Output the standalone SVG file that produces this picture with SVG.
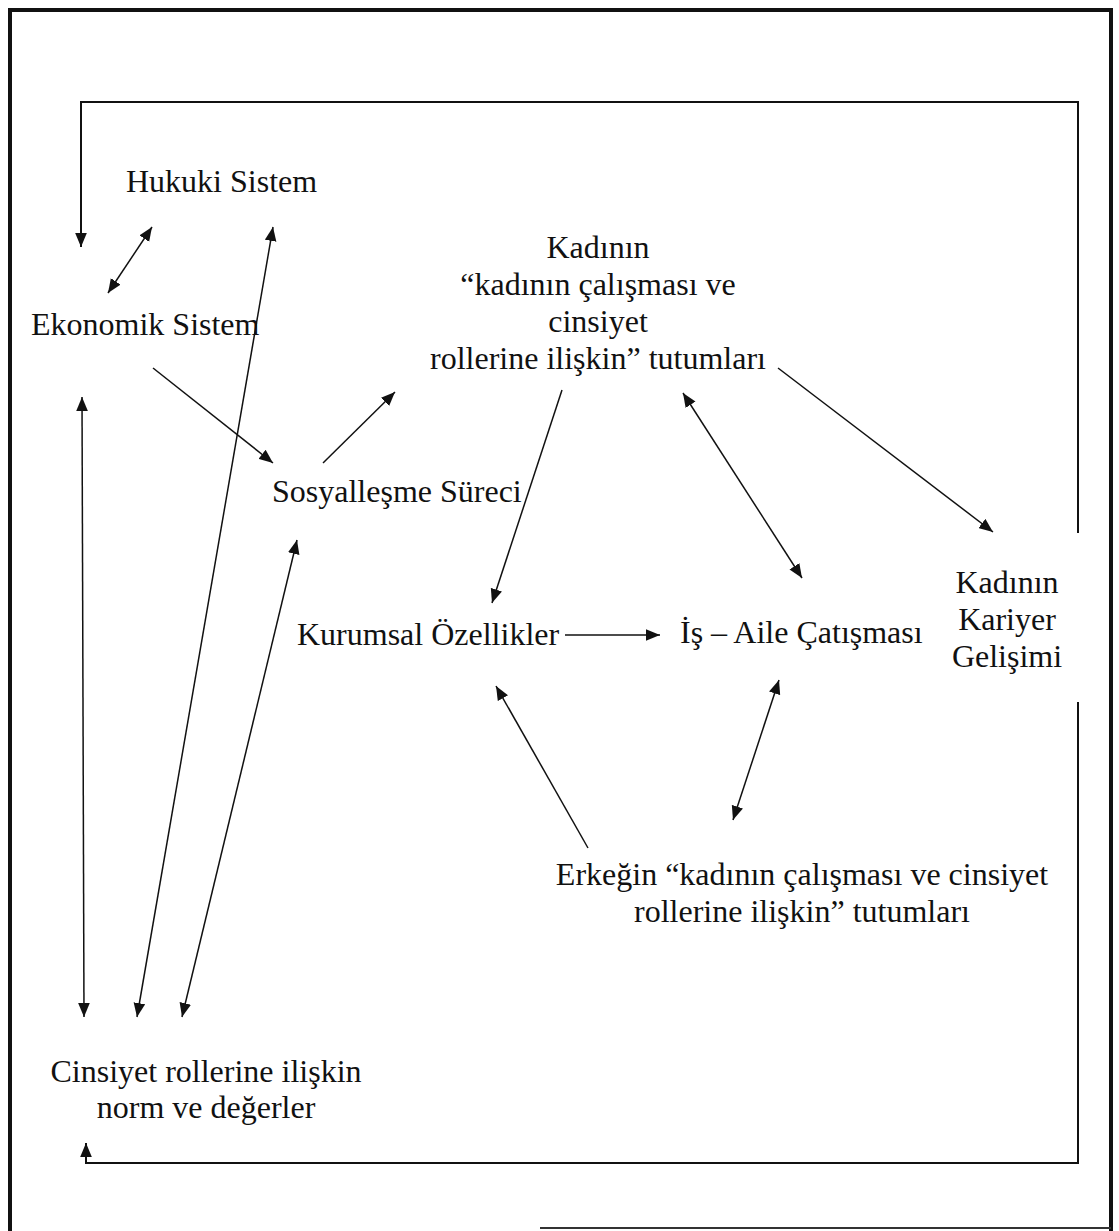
<svg xmlns="http://www.w3.org/2000/svg" width="1119" height="1231" viewBox="0 0 1119 1231">
<style>
text{font-family:"Liberation Serif","Times New Roman",serif;font-size:32px;fill:#111}
.c{text-anchor:middle}
.ln{stroke:#111;stroke-width:1.5;fill:none}
.lp{stroke:#111;stroke-width:2;fill:none}
.fr{stroke:#111;stroke-width:4;fill:none}
</style>
<defs>
<marker id="ah" viewBox="0 0 12 10" refX="12" refY="5" markerWidth="14" markerHeight="12" markerUnits="userSpaceOnUse" orient="auto-start-reverse">
<path d="M0,0 L12,5 L0,10 z" fill="#111"/>
</marker>
</defs>
<rect width="1119" height="1231" fill="#fff"/>
<g id="frame">
<path class="fr" d="M10,1231 V10 H1111 V1231"/>
<line x1="540" y1="1228" x2="1111" y2="1228" stroke="#333" stroke-width="2"/>
</g>
<g id="connectors">
<path class="lp" d="M1078,533 V102 H81 V247" marker-end="url(#ah)"/>
<path class="lp" d="M1078,702 V1163 H86 V1143" marker-end="url(#ah)"/>
<line class="ln" x1="108" y1="293" x2="152" y2="227" marker-start="url(#ah)" marker-end="url(#ah)"/>
<line class="ln" x1="137" y1="1017" x2="273" y2="227" marker-start="url(#ah)" marker-end="url(#ah)"/>
<line class="ln" x1="84" y1="1017" x2="82" y2="397" marker-start="url(#ah)" marker-end="url(#ah)"/>
<line class="ln" x1="182" y1="1017" x2="297" y2="540" marker-start="url(#ah)" marker-end="url(#ah)"/>
<line class="ln" x1="153" y1="368" x2="273" y2="463" marker-end="url(#ah)"/>
<line class="ln" x1="323" y1="463" x2="395" y2="392" marker-end="url(#ah)"/>
<line class="ln" x1="562" y1="390" x2="492" y2="603" marker-end="url(#ah)"/>
<line class="ln" x1="683" y1="393" x2="802" y2="578" marker-start="url(#ah)" marker-end="url(#ah)"/>
<line class="ln" x1="778" y1="368" x2="993" y2="532" marker-end="url(#ah)"/>
<line class="ln" x1="565" y1="635" x2="660" y2="635" marker-end="url(#ah)"/>
<line class="ln" x1="588" y1="848" x2="496" y2="686" marker-end="url(#ah)"/>
<line class="ln" x1="779" y1="680" x2="733" y2="820" marker-start="url(#ah)" marker-end="url(#ah)"/>
</g>
<g id="hukuki"><text x="126" y="192">Hukuki Sistem</text></g>
<g id="ekonomik"><text x="31" y="335">Ekonomik Sistem</text></g>
<g id="sosyallesme"><text x="272" y="502">Sosyalleşme Süreci</text></g>
<g id="kadin-tutum">
<text class="c" x="598" y="258">Kadının</text>
<text class="c" x="598" y="295">“kadının çalışması ve</text>
<text class="c" x="598" y="332">cinsiyet</text>
<text class="c" x="598" y="369">rollerine ilişkin” tutumları</text>
</g>
<g id="kurumsal"><text x="297" y="645">Kurumsal Özellikler</text></g>
<g id="is-aile"><text x="680" y="643">İş – Aile Çatışması</text></g>
<g id="kariyer">
<text class="c" x="1007" y="593">Kadının</text>
<text class="c" x="1007" y="630">Kariyer</text>
<text class="c" x="1007" y="667">Gelişimi</text>
</g>
<g id="erkek">
<text class="c" x="802" y="885">Erkeğin “kadının çalışması ve cinsiyet</text>
<text class="c" x="802" y="922">rollerine ilişkin” tutumları</text>
</g>
<g id="cinsiyet">
<text class="c" x="206" y="1082">Cinsiyet rollerine ilişkin</text>
<text class="c" x="206" y="1118">norm ve değerler</text>
</g>
</svg>
